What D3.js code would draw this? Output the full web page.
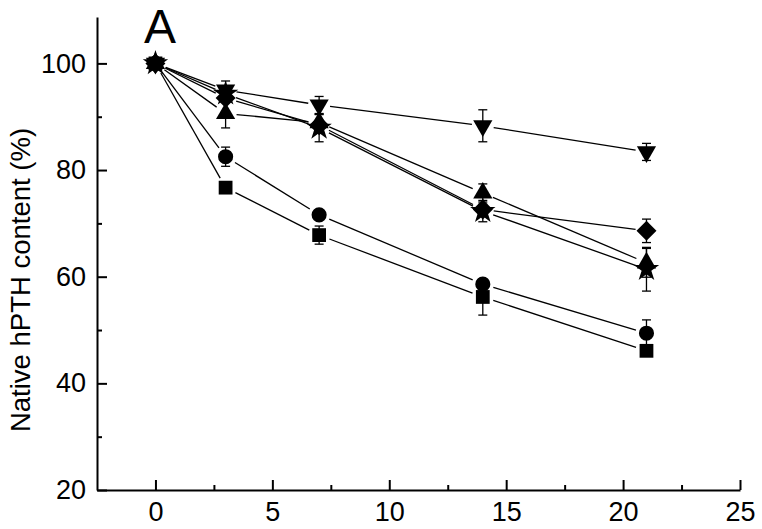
<!DOCTYPE html>
<html><head><meta charset="utf-8">
<script src="https://cdn.jsdelivr.net/npm/d3@7"></script>
<style>
html,body{margin:0;padding:0;background:#fff;}
svg text{font-family:"Liberation Sans",Arial,sans-serif;fill:#000;}
</style></head>
<body><svg id="c" width="762" height="529"></svg>
<script>
// ---- data ----
const days = [0, 3, 7, 14, 21];
const squareVals   = [100, 76.7, 67.8, 56.2, 46.1];
const squareErr    = [0.8, 0.8, 1.7, 3.4, 0.8];
const circleVals   = [100, 82.5, 71.6, 58.6, 49.4];
const circleErr    = [0.8, 1.8, 0.8, 0.8, 2.5];
const upTriVals    = [100, 90.6, 88.9, 75.7, 62.6];
const upTriErr     = [0.8, 2.7, 1.5, 1.7, 2.7];
const downTriVals  = [100, 95.0, 92.2, 88.3, 83.4];
const downTriErr   = [0.8, 1.7, 1.6, 3.0, 1.6];
const diamondVals  = [100, 93.5, 88.4, 72.6, 68.6];
const diamondErr   = [0.8, 0.8, 0.8, 1.0, 2.2];
const starVals     = [100, 94.3, 87.9, 72.3, 61.4];
const starErr      = [0.8, 0.8, 2.6, 2.0, 4.1];
const xTicks = [0, 5, 10, 15, 20, 25];
const xMinor = [2.5, 7.5, 12.5, 17.5, 22.5];
const yTicks = [20, 40, 60, 80, 100];
const yMinor = [30, 50, 70, 90];

const series = [
  {name:"square",  vals:squareVals,  err:squareErr},
  {name:"circle",  vals:circleVals,  err:circleErr},
  {name:"upTri",   vals:upTriVals,   err:upTriErr},
  {name:"downTri", vals:downTriVals, err:downTriErr},
  {name:"diamond", vals:diamondVals, err:diamondErr},
  {name:"star",    vals:starVals,    err:starErr}
];

const svg = d3.select("#c");
const x = d3.scaleLinear().domain([-2.5, 25]).range([97, 740]);
const y = d3.scaleLinear().domain([20, 108.7]).range([490, 17]);

// axes
const gx = svg.append("g").attr("transform","translate(0,490)")
  .call(d3.axisBottom(x).tickValues(xTicks).tickSize(-10).tickSizeOuter(0).tickPadding(12));
svg.append("g").attr("transform","translate(0,490)")
  .call(d3.axisBottom(x).tickValues(xMinor).tickSize(-5).tickFormat("")).select(".domain").remove();
const gy = svg.append("g").attr("transform","translate(97,0)")
  .call(d3.axisLeft(y).tickValues(yTicks).tickSize(-10).tickSizeOuter(0).tickPadding(11));
svg.append("g").attr("transform","translate(97,0)")
  .call(d3.axisLeft(y).tickValues(yMinor).tickSize(-5).tickFormat("")).select(".domain").remove();
svg.selectAll(".domain, .tick line").attr("stroke","#000").attr("stroke-width",2);
svg.selectAll(".tick text").attr("font-size",27).attr("font-family","Liberation Sans, Arial, sans-serif").attr("fill","#000");

// y label
svg.append("text").attr("transform","translate(30,280) rotate(-90)")
  .attr("text-anchor","middle").attr("font-size",27.5).text("Native hPTH content (%)");
// panel label
svg.append("text").attr("x",144).attr("y",43).attr("font-size",48).text("A");

// error bars
const eg = svg.append("g").attr("stroke","#000").attr("stroke-width",1.3);
series.forEach(s=>{
  days.forEach((d,i)=>{
    const cx = x(d), y1 = y(s.vals[i]+s.err[i]), y2 = y(s.vals[i]-s.err[i]);
    eg.append("line").attr("x1",cx).attr("x2",cx).attr("y1",y1).attr("y2",y2);
    eg.append("line").attr("x1",cx-4.5).attr("x2",cx+4.5).attr("y1",y1).attr("y2",y1);
    eg.append("line").attr("x1",cx-4.5).attr("x2",cx+4.5).attr("y1",y2).attr("y2",y2);
  });
});

// connecting lines with gaps near markers
const lg = svg.append("g").attr("stroke","#000").attr("stroke-width",1.3);
const gap = 11;
series.forEach(s=>{
  for(let i=0;i<days.length-1;i++){
    const x1=x(days[i]), y1=y(s.vals[i]), x2=x(days[i+1]), y2=y(s.vals[i+1]);
    const L=Math.hypot(x2-x1,y2-y1), ux=(x2-x1)/L, uy=(y2-y1)/L;
    lg.append("line").attr("x1",x1+ux*gap).attr("y1",y1+uy*gap)
      .attr("x2",x2-ux*gap).attr("y2",y2-uy*gap);
  }
});

// markers
const symDefs = {
  square:  {t:d3.symbolSquare,   size:190, rot:0},
  circle:  {t:d3.symbolCircle,   size:180, rot:0},
  upTri:   {t:d3.symbolTriangle, size:160, rot:0},
  downTri: {t:d3.symbolTriangle, size:160, rot:180},
  diamond: {t:d3.symbolSquare,   size:200, rot:45},
  star:    {t:d3.symbolStar,     size:200, rot:0}
};
const mg = svg.append("g");
["star","diamond","upTri","downTri","circle","square"].forEach(nm=>{
  const s = series.find(q=>q.name===nm), def = symDefs[nm];
  const path = d3.symbol().type(def.t).size(def.size)();
  days.forEach((d,i)=>{
    mg.append("path").attr("d",path).attr("fill","#000")
      .attr("transform",`translate(${x(d)},${y(s.vals[i])}) rotate(${def.rot})`);
  });
});
</script></body></html>
